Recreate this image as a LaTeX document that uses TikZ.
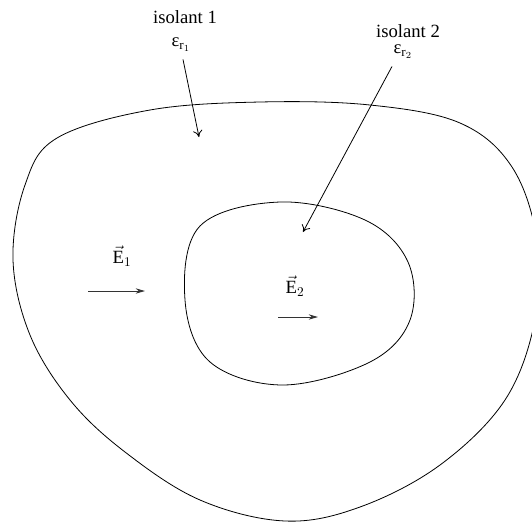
\documentclass[tikz,border=0pt]{standalone}
\usepackage{fontspec}
\usepackage{amsmath}
\setmainfont{Liberation Serif}
\usetikzlibrary{arrows.meta, positioning}

\begin{document}
\begin{tikzpicture}[
    x=0.75pt, y=-0.75pt,
    every node/.style={font=\fontsize{14}{16}\selectfont, inner sep=1pt},
    border/.style={line width=0.6pt, black},
    pointer/.style={-{To[length=5pt, width=7pt]}, line width=0.6pt},
    field/.style={-{Stealth[length=7pt, width=4pt]}, line width=0.7pt, black!80}
]
\useasboundingbox (0,0) rectangle (532,522);
\clip (0,0) rectangle (532,522);

% Outer insulator
\draw [border] plot[smooth cycle, tension=0.6] coordinates {
    (57,138) (150,110) (260,102) (370,105) (460,123) (512,167) (537,240)
    (535,320) (505,400) (440,465) (360,507) (285,521) (200,500) (125,452)
    (70,400) (30,335) (13,260) (25,185)};

% Inner insulator
\draw [border] plot[smooth cycle, tension=0.6] coordinates {
    (200,226) (280,202) (365,220) (408,262) (410,320) (370,362) (283,385)
    (210,362) (185,300)};

% Labels
\node (iso1) at (185,17) {isolant 1};
\node (eps1) at (181,45) {$\text{ε}_{\mathrm{r}_1}$};
\node (iso2) at (408,31) {isolant 2};
\node (eps2) at (403,52) {$\text{ε}_{\mathrm{r}_2}$};
\node (e1lab) at (122,256) {$\vec{\mathrm{E}}_1$};
\node (e2lab) at (295,286) {$\vec{\mathrm{E}}_2$};

% Arrow ends
\coordinate (tip1) at (199,137);
\coordinate (tip2) at (303,232);
\coordinate (e1start) at (88,291);
\coordinate (e1end) at (145,291);
\coordinate (e2start) at (278,317);
\coordinate (e2end) at (318,317);

% Arrows
\draw [pointer] (eps1.south) ++(2,6) -- (tip1);
\draw [pointer] (eps2.south) ++(-11,6) -- (tip2);
\draw [field] (e1start) -- (e1end);
\draw [field] (e2start) -- (e2end);

\end{tikzpicture}
\end{document}
